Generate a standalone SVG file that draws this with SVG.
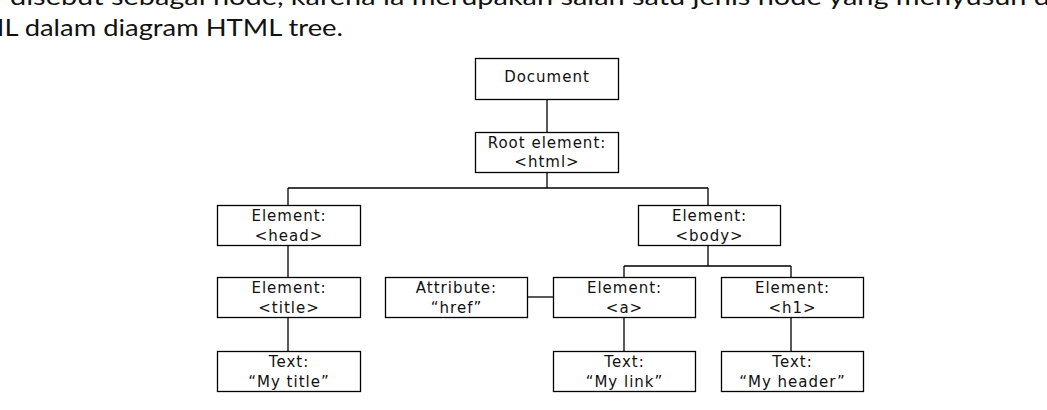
<svg xmlns="http://www.w3.org/2000/svg" width="1047" height="410" viewBox="0 0 1047 410">
<style>
.prose{font-family:Lato,"Noto Sans",sans-serif;font-size:23px;fill:#111}
.box{fill:#fff;stroke:#000;stroke-width:1.3}
.lbl{font-family:"DejaVu Sans",Verdana,sans-serif;font-size:15px;letter-spacing:1px;fill:#111;text-anchor:middle}
.con{fill:none;stroke:#000;stroke-width:1.3}
</style>
<rect width="1047" height="410" fill="#fff"/>
<text class="prose" x="10" y="5" textLength="1040" lengthAdjust="spacingAndGlyphs">disebut sebagai node, karena ia merupakan salah satu jenis node yang menyusun d</text>
<text class="prose" x="-21" y="36" textLength="364" lengthAdjust="spacingAndGlyphs">ML dalam diagram HTML tree.</text>
<g id="connectors">
<path class="con" d="M547,100V132"/>
<path class="con" d="M547,173V188M288,188H708M288,188V205.5M708,188V205.5"/>
<path class="con" d="M288,246V277M288,318V351"/>
<path class="con" d="M708,246V266M624,266H791M624,266V277M791,266V277"/>
<path class="con" d="M528,297H553"/>
<path class="con" d="M624,318V351M791,318V351"/>
</g>
<g id="document"><rect class="box" x="475.5" y="58.5" width="143" height="41"/><text class="lbl" x="547" y="82">Document</text></g>
<g id="root"><rect class="box" x="475.5" y="132.5" width="143" height="40"/><text class="lbl" x="547" y="148">Root element:</text><text class="lbl" x="547" y="167">&lt;html&gt;</text></g>
<g id="head"><rect class="box" x="217.5" y="205.5" width="143" height="40"/><text class="lbl" x="289" y="220.5">Element:</text><text class="lbl" x="289" y="240.5">&lt;head&gt;</text></g>
<g id="body"><rect class="box" x="638.5" y="205.5" width="142" height="40"/><text class="lbl" x="709.5" y="220.5">Element:</text><text class="lbl" x="709.5" y="240.5">&lt;body&gt;</text></g>
<g id="title"><rect class="box" x="217.5" y="277.5" width="143" height="40"/><text class="lbl" x="289" y="292.5">Element:</text><text class="lbl" x="289" y="312.5">&lt;title&gt;</text></g>
<g id="attribute"><rect class="box" x="385.5" y="277.5" width="142" height="40"/><text class="lbl" x="456.5" y="292.5">Attribute:</text><text class="lbl" x="456.5" y="312.5">“href”</text></g>
<g id="a"><rect class="box" x="553.5" y="277.5" width="142" height="40"/><text class="lbl" x="624.5" y="292.5">Element:</text><text class="lbl" x="624.5" y="312.5">&lt;a&gt;</text></g>
<g id="h1"><rect class="box" x="721.5" y="277.5" width="142" height="40"/><text class="lbl" x="792.5" y="292.5">Element:</text><text class="lbl" x="792.5" y="312.5">&lt;h1&gt;</text></g>
<g id="text-title"><rect class="box" x="217.5" y="351.5" width="143" height="40"/><text class="lbl" x="289" y="367">Text:</text><text class="lbl" x="289" y="386.5">“My title”</text></g>
<g id="text-link"><rect class="box" x="553.5" y="351.5" width="142" height="40"/><text class="lbl" x="624.5" y="367">Text:</text><text class="lbl" x="624.5" y="386.5">“My link”</text></g>
<g id="text-header"><rect class="box" x="721.5" y="351.5" width="142" height="40"/><text class="lbl" x="792.5" y="367">Text:</text><text class="lbl" x="792.5" y="386.5">“My header”</text></g>
</svg>
